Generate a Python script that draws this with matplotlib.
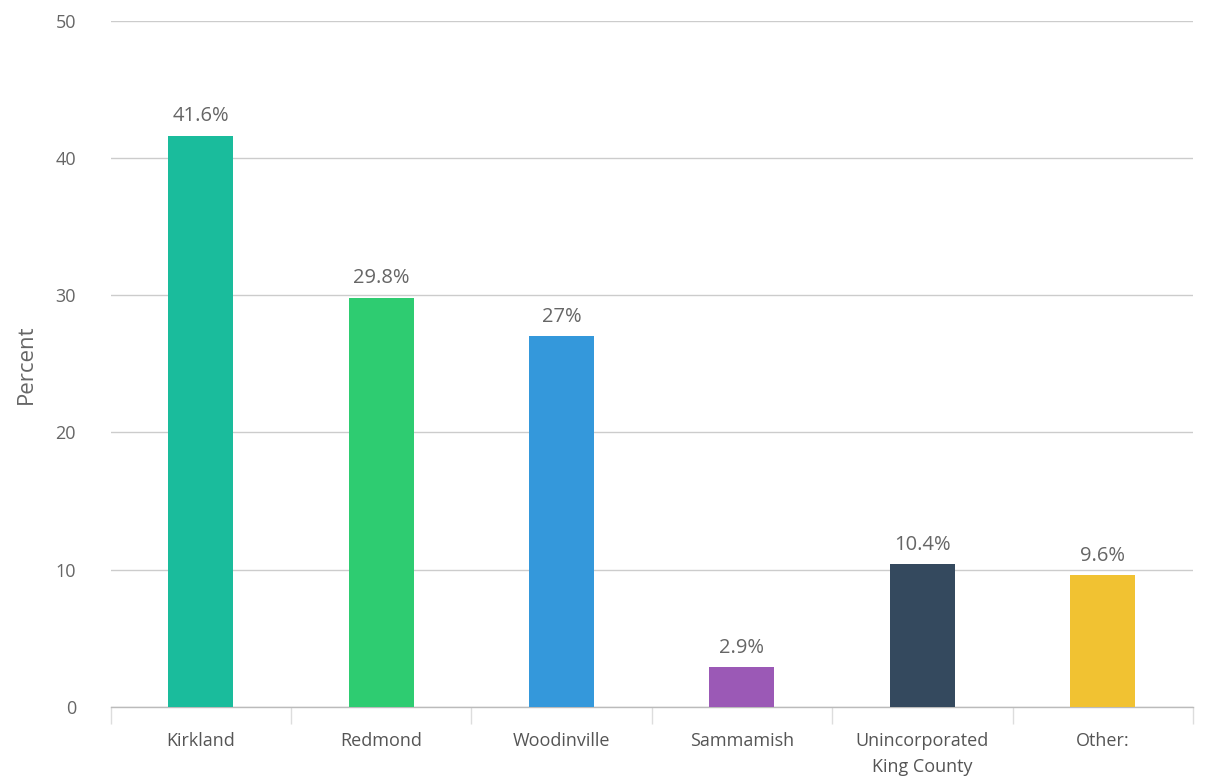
import matplotlib
matplotlib.use("Agg")
import matplotlib.pyplot as plt
import numpy as np

categories = ["Kirkland", "Redmond", "Woodinville", "Sammamish", "Unincorporated\nKing County", "Other:"]
values = [41.6, 29.8, 27.0, 2.9, 10.4, 9.6]
value_labels = ["41.6%", "29.8%", "27%", "2.9%", "10.4%", "9.6%"]
colors = ["#1abc9c", "#2ecc71", "#3498db", "#9b59b6", "#34495e", "#f1c232"]
yticks = [0, 10, 20, 30, 40, 50]

plt.rcParams['font.family'] = ['Open Sans', 'DejaVu Sans']

fig = plt.figure(figsize=(12.16, 7.81), dpi=100)
ax = fig.add_axes([0.091, 0.0947, 0.890, 0.879])

x = np.arange(len(categories))
ax.bar(x, values, width=0.36, color=colors, zorder=3)
for xi, v, lab in zip(x, values, value_labels):
    ax.text(xi, v + 0.7, lab, ha="center", va="bottom", fontsize=14.5, color="#666666", zorder=4)

ax.set_xlim(-0.5, len(categories) - 0.5)
ax.set_ylim(0, 50)
ax.set_yticks(yticks)
ax.set_yticklabels([str(t) for t in yticks], fontsize=13, color="#666666")
ax.tick_params(axis="y", length=0, pad=25)
ax.yaxis.grid(True, color="#cccccc", linewidth=1.0, zorder=0)
ax.set_axisbelow(True)

ax.set_xticks(x)
ax.set_xticklabels(categories, fontsize=13, color="#555555", linespacing=1.55)
ax.tick_params(axis="x", length=0, pad=18)
ax.set_xticks(np.arange(-0.5, len(categories), 1.0), minor=True)
ax.tick_params(axis="x", which="minor", length=12, color="#dddddd", width=1)

for s in ["top", "right", "left"]:
    ax.spines[s].set_visible(False)
ax.spines["bottom"].set_color("#bbbbbb")
ax.spines["bottom"].set_linewidth(1.0)

ax.set_ylabel("Percent", fontsize=16, color="#666666")
ax.yaxis.set_label_coords(-0.068, 0.5)

fig.savefig("out.png", dpi=100, facecolor="white")
